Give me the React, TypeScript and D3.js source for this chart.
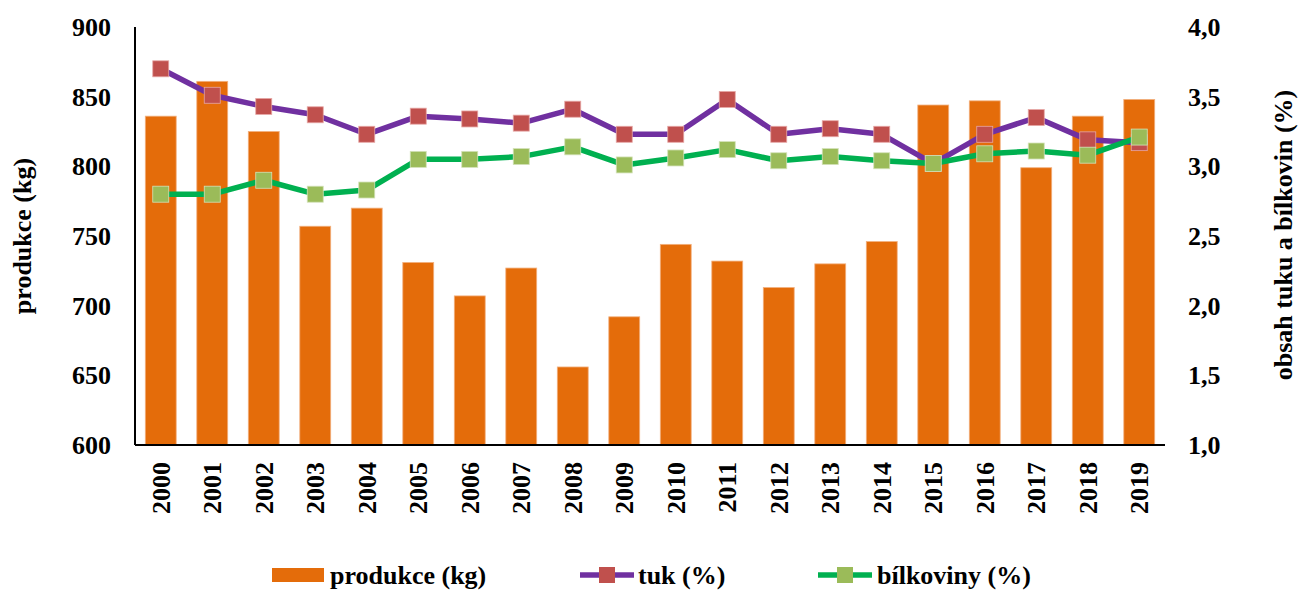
import * as d3 from "d3";

const years = [
  "2000", "2001", "2002", "2003", "2004", "2005", "2006", "2007", "2008", "2009",
  "2010", "2011", "2012", "2013", "2014", "2015", "2016", "2017", "2018", "2019",
];
const produkce = [836, 861, 825, 757, 770, 731, 707, 727, 656, 692, 744, 732, 713, 730, 746, 844, 847, 799, 836, 848];
const tuk = [3.7, 3.51, 3.43, 3.37, 3.23, 3.36, 3.34, 3.31, 3.41, 3.23, 3.23, 3.48, 3.23, 3.27, 3.23, 3.02, 3.23, 3.35, 3.19, 3.17];
const bilkoviny = [2.8, 2.8, 2.9, 2.8, 2.83, 3.05, 3.05, 3.07, 3.14, 3.01, 3.06, 3.12, 3.04, 3.07, 3.04, 3.02, 3.09, 3.11, 3.08, 3.21];
const leftTicks = [600, 650, 700, 750, 800, 850, 900];
const rightTicks = [1.0, 1.5, 2.0, 2.5, 3.0, 3.5, 4.0];

const W = 1298;
const H = 590;
const margin = { top: 27, right: 133, bottom: 145, left: 135 };
const FONT = "Liberation Serif, DejaVu Serif, serif";
const FS = 26;

const BAR = "#E46C0A";
const TUK_LINE = "#7030A0";
const TUK_MARK = "#C0504D";
const BIL_LINE = "#00B050";
const BIL_MARK = "#9BBB59";

export default function App() {
  const x = d3
    .scaleBand()
    .domain(years)
    .range([margin.left, W - margin.right])
    .paddingInner(0.4)
    .paddingOuter(0.2);
  const yL = d3.scaleLinear().domain([600, 900]).range([H - margin.bottom, margin.top]);
  const yR = d3.scaleLinear().domain([1, 4]).range([H - margin.bottom, margin.top]);
  const cx = (y: string) => (x(y) ?? 0) + x.bandwidth() / 2;

  const lineGen = d3
    .line<number>()
    .x((_, i) => cx(years[i]))
    .y((d) => yR(d));

  const ms = 16;
  const series = [
    { data: tuk, line: TUK_LINE, mark: TUK_MARK, stroke: "#E6A7A5" },
    { data: bilkoviny, line: BIL_LINE, mark: BIL_MARK, stroke: "#D3E2B8" },
  ];
  const baseY = H - margin.bottom;
  const ly = 575;

  return (
    <div style={{ position: "absolute", left: 0, top: 0 }}>
      <svg
        width={W}
        height={H}
        style={{ display: "block", background: "#fff", fontFamily: FONT, fontWeight: "bold" }}
      >
        {produkce.map((v, i) => (
          <rect
            key={years[i]}
            x={x(years[i])}
            y={yL(v)}
            width={x.bandwidth()}
            height={baseY - yL(v)}
            fill={BAR}
            stroke="#F2B07E"
            strokeWidth={0.8}
          />
        ))}

        {series.map((s, si) => (
          <g key={si}>
            <path d={lineGen(s.data) ?? ""} fill="none" stroke={s.line} strokeWidth={5.5} strokeLinejoin="round" />
            {s.data.map((d, i) => (
              <rect
                key={i}
                x={cx(years[i]) - ms / 2}
                y={yR(d) - ms / 2}
                width={ms}
                height={ms}
                fill={s.mark}
                stroke={s.stroke}
                strokeWidth={0.8}
              />
            ))}
          </g>
        ))}

        {/* axes */}
        <line x1={margin.left} x2={margin.left} y1={margin.top} y2={baseY} stroke="#000" strokeWidth={2} />
        <line x1={margin.left} x2={W - margin.right} y1={baseY} y2={baseY} stroke="#000" strokeWidth={2} />

        {leftTicks.map((t) => (
          <text key={t} x={111} y={yL(t)} dy="0.35em" textAnchor="end" fontSize={FS}>
            {t}
          </text>
        ))}
        {rightTicks.map((t) => (
          <text key={t} x={1188} y={yR(t)} dy="0.35em" textAnchor="start" fontSize={FS}>
            {t.toFixed(1).replace(".", ",")}
          </text>
        ))}
        {years.map((yr) => (
          <text
            key={yr}
            transform={`translate(${cx(yr)},${baseY + 17}) rotate(-90)`}
            dy="0.35em"
            textAnchor="end"
            fontSize={FS}
          >
            {yr}
          </text>
        ))}

        <text transform="translate(22,236) rotate(-90)" dy="0.35em" textAnchor="middle" fontSize={FS}>
          produkce (kg)
        </text>
        <text transform="translate(1283,235) rotate(-90)" dy="0.35em" textAnchor="middle" fontSize={FS}>
          obsah tuku a bílkovin (%)
        </text>

        {/* legend */}
        <g fontSize={FS}>
          <rect x={272} y={ly - 7} width={52} height={14} fill={BAR} />
          <text x={330} y={ly} dy="0.33em">produkce (kg)</text>

          <line x1={580} x2={634} y1={ly} y2={ly} stroke={TUK_LINE} strokeWidth={5.5} />
          <rect x={607 - 8} y={ly - 8} width={16} height={16} fill={TUK_MARK} />
          <text x={638} y={ly} dy="0.33em">tuk (%)</text>

          <line x1={818} x2={872} y1={ly} y2={ly} stroke={BIL_LINE} strokeWidth={5.5} />
          <rect x={845 - 8} y={ly - 8} width={16} height={16} fill={BIL_MARK} />
          <text x={877} y={ly} dy="0.33em">bílkoviny (%)</text>
        </g>
      </svg>
    </div>
  );
}
